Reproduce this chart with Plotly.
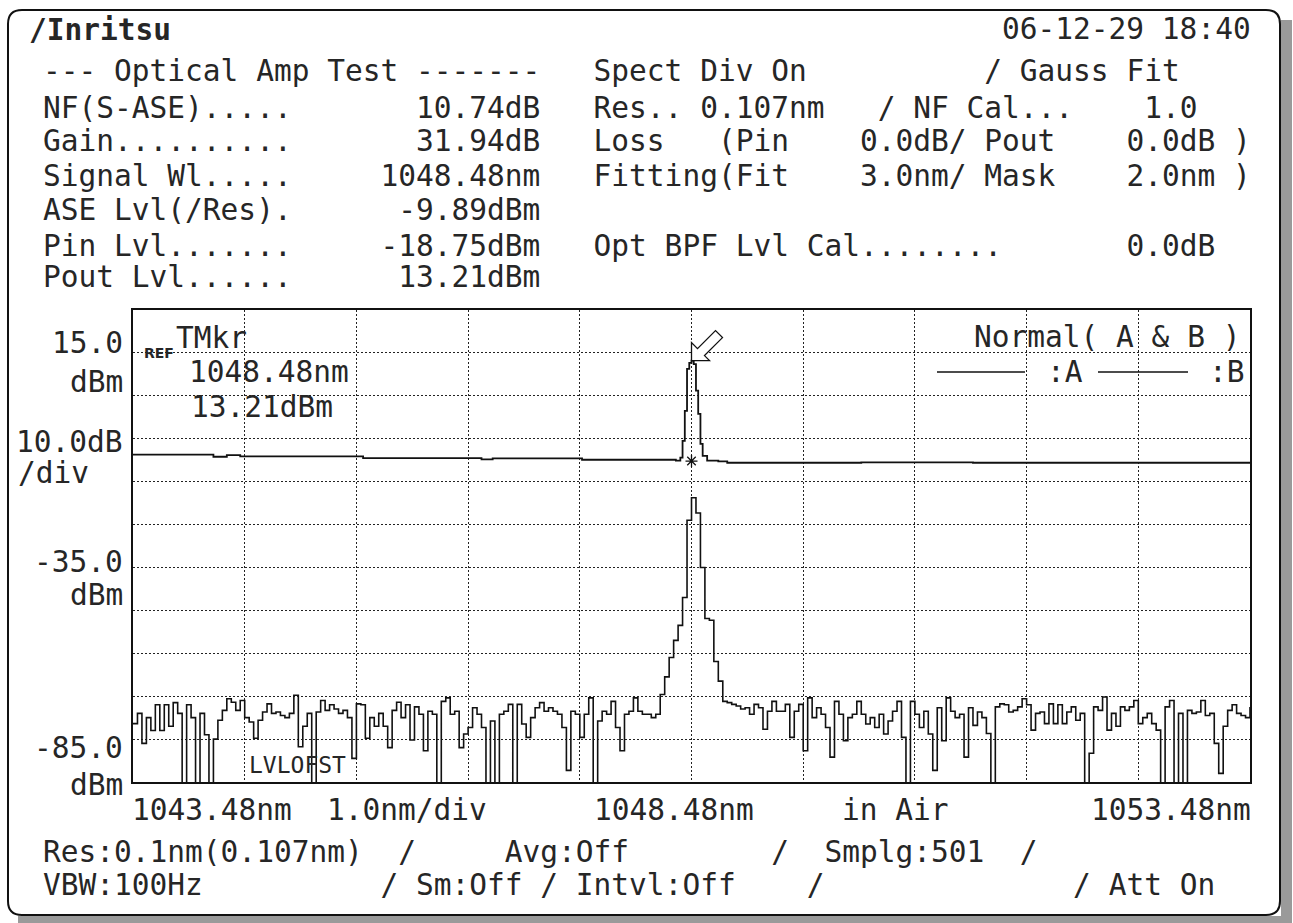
import numpy as np
import plotly.graph_objects as go

# ---------------- data ----------------
START_WL = 1043.48
STOP_WL = 1053.48
REF_LEVEL = 15.0      # dBm at REF line
SCALE_DB = 10.0       # dB/div

# Trace B (amplifier input), dBm, read every 0.04 nm from 1043.48 nm
trace_b_dbm = [
    -71.4, -69.0, -76.0, -70.0, -73.0, -67.0, -73.0, -67.0, -72.0, -66.5,
    -69.0, -90.0, -67.0, -70.0, -90.0, -69.0, -74.0, -90.0, -75.0, -70.6,
    -68.3, -65.6, -66.4, -68.3, -66.0, -70.0, -71.0, -74.8, -70.6, -68.7,
    -66.8, -69.0, -68.7, -69.5, -70.0, -69.0, -64.8, -76.8, -72.0, -69.0,
    -90.0, -68.7, -66.0, -68.3, -67.0, -68.0, -69.0, -68.3, -70.0, -79.5,
    -66.8, -67.0, -74.8, -70.0, -72.0, -69.0, -72.0, -77.0, -68.3, -66.4,
    -70.0, -67.0, -75.2, -67.5, -69.2, -77.7, -68.5, -69.2, -90.0, -66.2,
    -65.4, -69.2, -68.5, -77.0, -73.8, -72.3, -67.7, -69.2, -72.3, -90.0,
    -70.8, -90.0, -69.2, -68.5, -66.9, -90.0, -66.9, -71.5, -74.6, -70.0,
    -67.7, -66.5, -68.5, -67.7, -68.5, -69.2, -72.3, -82.3, -68.5, -69.2,
    -74.6, -69.2, -65.4, -90.0, -70.8, -68.5, -69.2, -66.2, -72.3, -77.7,
    -69.2, -68.5, -65.4, -68.5, -69.2, -69.2, -70.0, -69.2, -64.6, -60.5,
    -56.0, -52.0, -48.5, -42.0, -24.0, -18.75, -22.3, -35.0, -46.9, -47.3,
    -56.9, -61.5, -66.2, -66.5, -66.9, -67.3, -68.0, -67.7, -69.2, -66.9,
    -67.7, -72.7, -68.5, -66.2, -68.5, -68.5, -66.9, -74.6, -68.5, -66.9,
    -77.7, -65.4, -70.0, -67.7, -69.2, -72.3, -79.2, -66.2, -69.2, -75.4,
    -70.0, -69.2, -66.2, -69.2, -71.5, -70.0, -72.3, -69.2, -73.8, -70.8,
    -68.5, -66.2, -74.6, -90.0, -66.2, -69.2, -72.3, -68.5, -73.8, -82.3,
    -67.7, -75.4, -65.4, -68.5, -70.0, -69.2, -79.2, -67.7, -71.8, -68.7,
    -70.0, -73.7, -90.0, -67.5, -66.8, -67.0, -68.7, -68.3, -67.5, -65.6,
    -67.0, -72.9, -69.0, -68.7, -71.4, -66.8, -71.4, -67.0, -71.4, -68.7,
    -67.5, -70.6, -69.0, -90.0, -78.3, -67.5, -68.3, -65.2, -72.9, -69.0,
    -72.0, -67.5, -68.3, -67.5, -66.0, -71.4, -70.0, -69.0, -71.4, -72.9,
    -90.0, -67.5, -66.0, -90.0, -69.0, -90.0, -68.3, -69.0, -68.7, -66.0,
    -69.5, -69.0, -76.0, -83.0, -72.0, -68.3, -67.0, -69.0, -69.5, -70.0,
    -67.5,
]
trace_b_wl = np.linspace(START_WL, STOP_WL, len(trace_b_dbm))

# Trace A (amplifier output), read points (nm, dBm)
trace_a_wl = [1043.48, 1044.20, 1044.32, 1044.44, 1045.54, 1046.60, 1046.70,
              1047.50, 1048.34, 1048.38, 1048.40, 1048.42, 1048.44, 1048.46,
              1048.48, 1048.50, 1048.52, 1048.54, 1048.56, 1048.58, 1048.62,
              1048.72, 1048.80, 1050.00, 1051.00, 1053.48]
trace_a_dbm = [-8.7, -9.2, -8.8, -9.1, -9.5, -9.8, -9.6,
               -9.9, -10.1, -9.4, -5.5, 1.5, 11.3, 12.7,
               13.21, 12.4, 6.2, 0.8, -6.2, -9.0, -10.1,
               -10.3, -10.6, -10.5, -10.6, -10.6]

marker_wl = 1048.48
marker_dbm = 13.21
gauss_mark_dbm = -10.2

date_text = "06-12-29 18:40"
result_labels = ["NF(S-ASE).....", "Gain..........", "Signal Wl.....",
                 "ASE Lvl(/Res).", "Pin Lvl.......", "Pout Lvl......"]
result_values = ["10.74dB", "31.94dB", "1048.48nm", "-9.89dBm", "-18.75dBm", "13.21dBm"]
y_labels = ["15.0", "dBm", "10.0dB", "-35.0", "dBm", "-85.0", "dBm"]

# ---------------- layout helpers ----------------
W, H = 1293, 923
L, R, T, B = 133, 43, 310, 141
PW, PH = W - L - R, H - T - B
FONT = "DejaVu Sans Mono"
TXT = "#262626"
CW = 17.76      # character cell width
X0 = 42         # column 0 of the screen text grid


def px(x):
    return (x - L) / PW


def py(y):
    return (H - B - y) / PH


def row(pieces, width=70):
    buf = [" "] * width
    for col, t in pieces:
        for k, ch in enumerate(t):
            buf[col + k] = ch
    return "".join(buf).rstrip()


def nb(s):
    return s.replace(" ", "\u00a0")


annos = []


def text(x, y, s, size=29.5, anchor="left", bold=False, family=FONT):
    annos.append(dict(x=px(x), y=py(y), xref="paper", yref="paper", text=nb(s),
                      showarrow=False, xanchor=anchor, yanchor="middle", borderpad=0,
                      font=dict(family=family, size=size, color=TXT,
                                weight="bold" if bold else "normal")))


def at_col(col, y, s, **kw):
    text(X0 + col * CW, y, s, **kw)


# header rows
head_rows = [
    [(0, "--- Optical Amp Test -------"), (31, "Spect Div On"), (53, "/ Gauss Fit")],
    [(31, "Res.. 0.107nm"), (47, "/ NF Cal..."), (62, "1.0")],
    [(31, "Loss   (Pin"), (46, "0.0dB/ Pout"), (61, "0.0dB )")],
    [(31, "Fitting(Fit"), (46, "3.0nm/ Mask"), (61, "2.0nm )")],
    [],
    [(31, "Opt BPF Lvl Cal........"), (61, "0.0dB")],
    [],
]
for k in range(6):
    head_rows[k + 1] = [(0, result_labels[k]), (28 - len(result_values[k]), result_values[k])] + head_rows[k + 1]
row_y = [71, 108, 141, 176, 210, 246, 277]
for pieces, yy in zip(head_rows, row_y):
    text(X0, yy, row(pieces))

text(28, 30, "/Inritsu", size=29.5, bold=True)
at_col(54, 29, date_text)

# y-axis labels (right-aligned left of the grid), "/div" left-aligned
for s, yy in zip(y_labels, [343, 382, 442, 562, 595, 748, 785]):
    text(124, yy, s, anchor="right")
text(17, 473, "/div")

# x-axis labels
fmt = lambda v: f"{v:.2f}nm"
for col, s in [(5, fmt(START_WL)), (16, "1.0nm/div"), (31, fmt((START_WL + STOP_WL) / 2)),
               (45, "in Air"), (59, fmt(STOP_WL))]:
    at_col(col, 810, s)

# bottom status rows
text(X0, 852, row([(0, "Res:0.1nm(0.107nm)"), (20, "/"), (26, "Avg:Off"), (41, "/"),
                   (44, "Smplg:501"), (55, "/")]))
text(X0, 885, row([(0, "VBW:100Hz"), (19, "/ Sm:Off"), (28, "/ Intvl:Off"), (43, "/"),
                   (58, "/ Att On")]))

# in-grid texts
text(143, 353, "REF", size=14, bold=True, family="DejaVu Sans")
text(175, 338, "TMkr")
text(188, 372, f"{marker_wl:.2f}nm")
text(190, 407, f"{marker_dbm:.2f}dBm")
text(973, 337, "Normal( A & B )")
text(1046, 372, ":A")
text(1208, 372, ":B")
text(248, 765, "LVLOFST", size=23)

shapes = []
# legend lines
for x_a, x_b in [(937, 1025), (1098, 1188)]:
    shapes.append(dict(type="line", xref="paper", yref="paper", x0=px(x_a), x1=px(x_b),
                       y0=py(372), y1=py(372), line=dict(color="#111", width=1.5)))

# hollow marker arrow anchored on the marker point
shapes.append(dict(type="path", xref="x", yref="y", xsizemode="pixel", ysizemode="pixel",
                   xanchor=marker_wl, yanchor=marker_dbm,
                   path="M 0,0 L 0,18 L 6,12 L 24,30 L 31,23 L 13,5 L 18,0 Z",
                   line=dict(color="#111", width=1.3), fillcolor="white"))


def ppath(pts):
    out = []
    for cmd, coords in pts:
        if cmd == "Z":
            out.append("Z")
            continue
        c = " ".join(f"{px(coords[i]):.5f},{py(coords[i + 1]):.5f}" for i in range(0, len(coords), 2))
        out.append(f"{cmd} {c}")
    return " ".join(out)


# screen shadow and frame
shapes.append(dict(type="rect", xref="paper", yref="paper", x0=px(1281), x1=px(1292),
                   y0=py(20), y1=py(923), fillcolor="#9a9a9a", line=dict(width=0), layer="below"))
shapes.append(dict(type="rect", xref="paper", yref="paper", x0=px(18), x1=px(1292),
                   y0=py(916), y1=py(923), fillcolor="#9a9a9a", line=dict(width=0), layer="below"))
frame = [("M", (8, 24)), ("Q", (8, 10, 22, 10)), ("L", (1266, 10)), ("Q", (1280, 10, 1280, 24)),
         ("L", (1280, 901)), ("Q", (1280, 915, 1266, 915)), ("L", (22, 915)),
         ("Q", (8, 915, 8, 901)), ("Z", None)]
shapes.append(dict(type="path", xref="paper", yref="paper", path=ppath(frame),
                   line=dict(color="#111", width=2)))

# ---------------- figure ----------------
fig = go.Figure()
fig.add_trace(go.Scatter(x=trace_b_wl, y=trace_b_dbm, mode="lines", name="B",
                         line=dict(color="#111", width=1.6, shape="hv"), showlegend=False))
fig.add_trace(go.Scatter(x=trace_a_wl, y=trace_a_dbm, mode="lines", name="A",
                         line=dict(color="#111", width=1.8, shape="hv"), showlegend=False))
fig.add_trace(go.Scatter(x=[marker_wl], y=[gauss_mark_dbm], mode="markers", showlegend=False,
                         marker=dict(symbol="asterisk-open", size=10, color="#111",
                                     line=dict(width=1.3, color="#111"))))

bottom = REF_LEVEL - 10 * SCALE_DB
top = REF_LEVEL + SCALE_DB
grid = dict(showgrid=True, gridcolor="#222", gridwidth=1, griddash="2px,2px",
            showline=True, linecolor="#111", linewidth=2, mirror=True,
            zeroline=False, showticklabels=False, ticks="")
fig.update_xaxes(range=[START_WL, STOP_WL], tick0=START_WL, dtick=1.0, **grid)
fig.update_yaxes(range=[bottom, top], tick0=bottom, dtick=SCALE_DB, **grid)

fig.update_layout(width=W, height=H, margin=dict(l=L, r=R, t=T, b=B, pad=0),
                  paper_bgcolor="white", plot_bgcolor="white",
                  annotations=annos, shapes=shapes, showlegend=False)

fig.write_html("out.html", config={"displayModeBar": False},
               post_script="document.body.style.margin='0';document.body.style.overflow='hidden';")
